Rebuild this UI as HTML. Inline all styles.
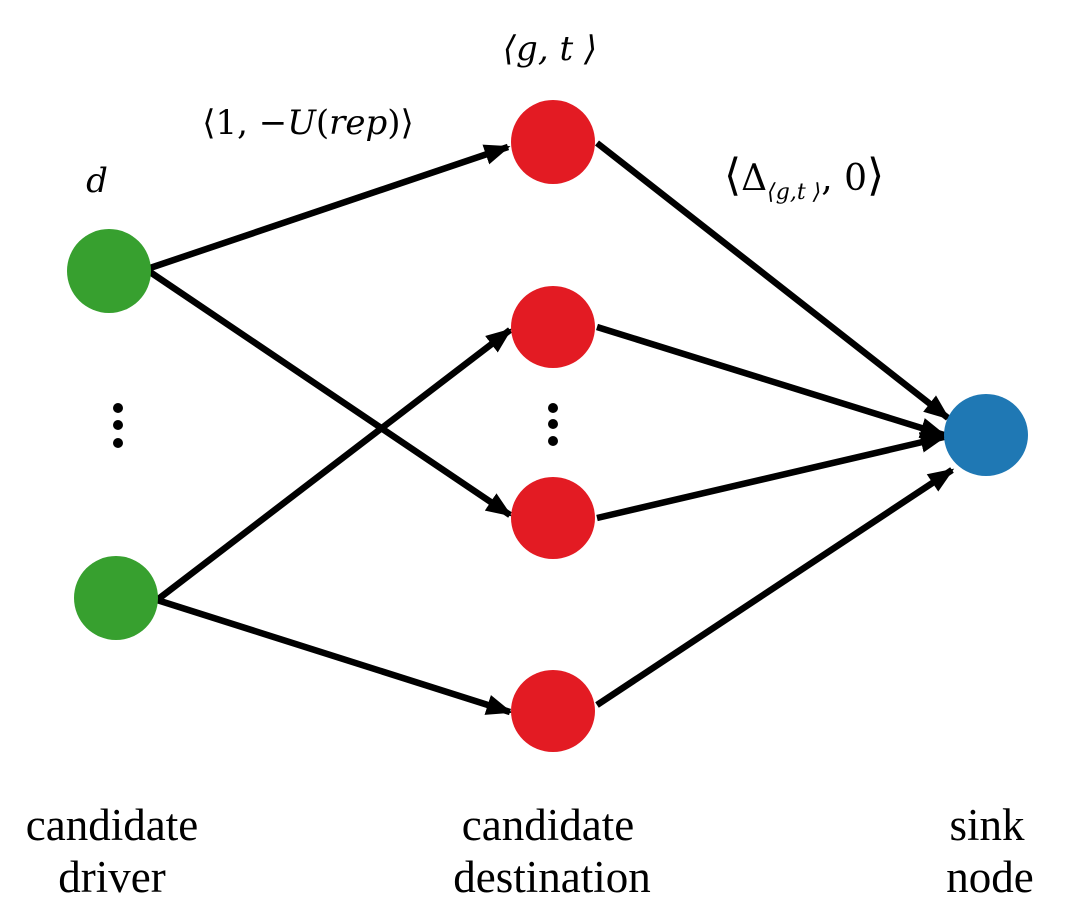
<!DOCTYPE html>
<html><head><meta charset="utf-8"><style>
html,body{margin:0;padding:0;background:#fff;}
svg{display:block;}
.m{font-family:"DejaVu Serif","Liberation Serif",serif;font-style:italic;}
.t{font-family:"Liberation Serif",serif;font-size:45px;fill:#000;}
</style></head><body>
<svg width="1080" height="924" viewBox="0 0 1080 924" xmlns="http://www.w3.org/2000/svg">
<defs>
<marker id="a" markerWidth="4" markerHeight="3.2" refX="3.6" refY="1.6" orient="auto" markerUnits="strokeWidth">
<path d="M0,0 L4,1.6 L0,3.2 Z" fill="#000"/>
</marker>
</defs>
<g stroke="#000" stroke-width="6.5" fill="none" marker-end="url(#a)">
<line x1="150" y1="268" x2="508" y2="147"/>
<line x1="150" y1="272" x2="510" y2="515"/>
<line x1="157" y1="600" x2="510" y2="330"/>
<line x1="157" y1="600" x2="510" y2="712"/>
<line x1="597" y1="143" x2="948" y2="418"/>
<line x1="597" y1="327" x2="944" y2="435"/>
<line x1="597" y1="518" x2="944" y2="437"/>
<line x1="597" y1="705" x2="952" y2="470"/>
</g>
<ellipse cx="109" cy="271" rx="42" ry="42" fill="#37a02f"/>
<ellipse cx="116" cy="598" rx="42" ry="42" fill="#37a02f"/>
<ellipse cx="553" cy="142" rx="42" ry="42" fill="#e31b23"/>
<ellipse cx="553" cy="327" rx="42" ry="41" fill="#e31b23"/>
<ellipse cx="553" cy="518" rx="42" ry="41" fill="#e31b23"/>
<ellipse cx="553" cy="711" rx="42" ry="41" fill="#e31b23"/>
<ellipse cx="986" cy="435" rx="42" ry="41" fill="#1f78b4"/>
<g fill="#000">
<circle cx="118" cy="408" r="5"/><circle cx="118" cy="425" r="5"/><circle cx="118" cy="443" r="5"/>
<circle cx="553" cy="408" r="5"/><circle cx="553" cy="424" r="5"/><circle cx="553" cy="441" r="5"/>
</g>
<text x="97" y="192" class="m" font-size="34" text-anchor="middle">d</text>
<text x="550" y="60" class="m" font-size="34" text-anchor="middle">⟨g, t ⟩</text>
<text x="308" y="134" class="m" font-size="34" text-anchor="middle"><tspan font-style="normal">⟨1, −</tspan>U<tspan font-style="normal">(</tspan>rep<tspan font-style="normal">)⟩</tspan></text>
<text x="724" y="190" class="m" font-size="36"><tspan font-style="normal" font-size="44">⟨</tspan><tspan font-style="normal">Δ</tspan><tspan font-size="22" dy="9">⟨g,t ⟩</tspan><tspan font-style="normal" dy="-9">, 0</tspan><tspan font-style="normal" font-size="44">⟩</tspan></text>
<text class="t" x="112" y="840" text-anchor="middle">candidate</text>
<text class="t" x="112" y="892" text-anchor="middle">driver</text>
<text class="t" x="548" y="840" text-anchor="middle">candidate</text>
<text class="t" x="552" y="892" text-anchor="middle">destination</text>
<text class="t" x="987" y="840" text-anchor="middle">sink</text>
<text class="t" x="990" y="892" text-anchor="middle">node</text>
</svg>
</body></html>
